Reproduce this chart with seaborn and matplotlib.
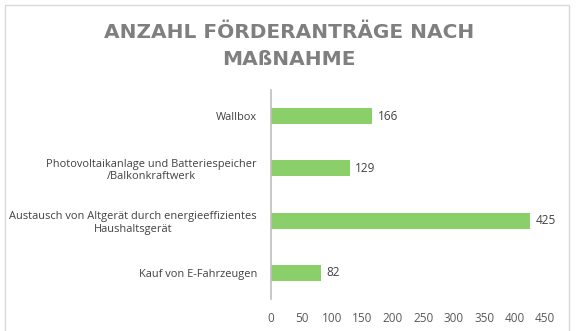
import matplotlib
matplotlib.use("Agg")
import matplotlib.pyplot as plt
import seaborn as sns
import pandas as pd
from matplotlib.patches import Rectangle

categories = [
    "Wallbox",
    "Photovoltaikanlage und Batteriespeicher\n/Balkonkraftwerk",
    "Austausch von Altgerät durch energieeffizientes\nHaushaltsgerät",
    "Kauf von E-Fahrzeugen",
]
values = [166, 129, 425, 82]
xticks = [0, 50, 100, 150, 200, 250, 300, 350, 400, 450]
title = "ANZAHL FÖRDERANTRÄGE NACH\nMAßNAHME"

DPI = 96
S = 100 / DPI  # keep sizes in pixels as designed for 100 dpi

sns.set_theme(style="white")
plt.rcParams["font.family"] = ["Open Sans", "DejaVu Sans"]
plt.rcParams["hatch.linewidth"] = 0.75

df = pd.DataFrame({"cat": categories, "val": values})

fig = plt.figure(figsize=(578 / DPI, 331 / DPI), dpi=DPI)
ax = fig.add_axes([271 / 578, 1 - 299 / 331, 274 / 578, 209 / 331])

sns.barplot(data=df, y="cat", x="val", orient="h", ax=ax, width=0.31,
            color="#b9e4a0", saturation=1)
for p in ax.patches:
    p.set_hatch("||||||||")
    p.set_edgecolor("#5dbb35")
    p.set_linewidth(0)

for i, v in enumerate(values):
    ax.text(v + 9, i, str(v), va="center", ha="left", fontsize=8.5 * S, color="#404040")

ax.set_xlim(0, 450)
ax.set_xticks(xticks)
ax.set_xticklabels([str(t) for t in xticks], fontsize=8.5 * S, color="#595959")
ax.set_ylabel("")
ax.set_xlabel("")
ax.tick_params(axis="y", labelsize=7.9 * S, labelcolor="#404040", length=0, pad=10 * S)
ax.tick_params(axis="x", length=0, pad=9 * S)
for lbl in ax.get_yticklabels():
    lbl.set_multialignment("center")
for s in ["top", "right", "bottom"]:
    ax.spines[s].set_visible(False)
ax.spines["left"].set_color("#bfbfbf")
ax.spines["left"].set_linewidth(1.2 * S)

fig.text(0.5, 1 - 46 / 331, title, ha="center", va="center", fontsize=14.5 * S,
         fontweight="bold", color="#7f7f7f", linespacing=1.55,
         family=["DejaVu Sans"])

fig.patches.append(Rectangle((5 / 578, -0.1), 564 / 578, 1.1 - 5 / 331,
                             transform=fig.transFigure, fill=False,
                             edgecolor="#d9d9d9", linewidth=1 * S))

fig.savefig("out.png", dpi=DPI)
